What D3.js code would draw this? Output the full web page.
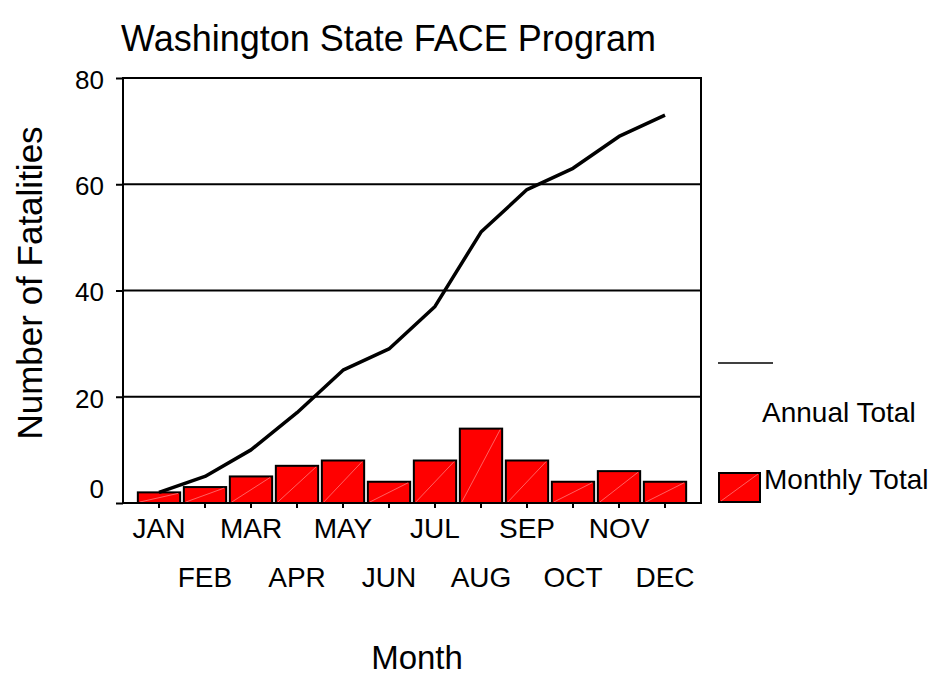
<!DOCTYPE html>
<html>
<head>
<meta charset="utf-8">
<script src="https://cdn.jsdelivr.net/npm/d3@7"></script>
<style>
  body { margin: 0; background: #fff; }
  svg text { font-family: "Liberation Sans", Arial, sans-serif; fill: #000; }
</style>
</head>
<body>
<div id="chart"></div>
<script>
const months = ['JAN', 'FEB', 'MAR', 'APR', 'MAY', 'JUN', 'JUL', 'AUG', 'SEP', 'OCT', 'NOV', 'DEC'];
const monthlyTotal = [2, 3, 5, 7, 8, 4, 8, 14, 8, 4, 6, 4];
const annualTotal = [2, 5, 10, 17, 25, 29, 37, 51, 59, 63, 69, 73];
const yTicks = [0, 20, 40, 60, 80];

const width = 935, height = 675;
const plot = { left: 123, right: 701, top: 78, bottom: 503 };

const svg = d3.select('#chart')
  .append('svg')
  .attr('width', width)
  .attr('height', height);

const x = d3.scaleBand()
  .domain(months)
  .range([plot.left, plot.right])
  .paddingInner(0.08)
  .paddingOuter(0.3226);

const y = d3.scaleLinear()
  .domain([0, 80])
  .range([plot.bottom, plot.top]);

// gridlines
svg.append('g')
  .selectAll('line')
  .data(yTicks.filter(d => d > 0 && d < 80))
  .join('line')
  .attr('x1', plot.left).attr('x2', plot.right)
  .attr('y1', d => y(d)).attr('y2', d => y(d))
  .attr('stroke', '#000')
  .attr('stroke-width', 2);

// bars
const bars = svg.append('g');
bars.selectAll('rect')
  .data(monthlyTotal)
  .join('rect')
  .attr('x', (d, i) => x(months[i]))
  .attr('y', d => y(d))
  .attr('width', x.bandwidth())
  .attr('height', d => y(0) - y(d))
  .attr('fill', '#ff0000')
  .attr('stroke', '#000')
  .attr('stroke-width', 2);

// faint diagonal inside each bar
bars.selectAll('line')
  .data(monthlyTotal)
  .join('line')
  .attr('x1', (d, i) => x(months[i]) + 2)
  .attr('y1', y(0) - 1)
  .attr('x2', (d, i) => x(months[i]) + x.bandwidth() - 2)
  .attr('y2', d => y(d) + 1)
  .attr('stroke', '#ff7a7a')
  .attr('stroke-width', 0.8);

// cumulative line
const line = d3.line()
  .x((d, i) => x(months[i]) + x.bandwidth() / 2)
  .y(d => y(d));

svg.append('path')
  .datum(annualTotal)
  .attr('fill', 'none')
  .attr('stroke', '#000')
  .attr('stroke-width', 3.5)
  .attr('stroke-linejoin', 'round')
  .attr('d', line);

// frame
svg.append('rect')
  .attr('x', plot.left).attr('y', plot.top)
  .attr('width', plot.right - plot.left)
  .attr('height', plot.bottom - plot.top)
  .attr('fill', 'none')
  .attr('stroke', '#000')
  .attr('stroke-width', 2);

// y axis
const yAxis = svg.append('g')
  .attr('transform', `translate(${plot.left},0)`)
  .call(d3.axisLeft(y).tickValues(yTicks).tickSize(7).tickPadding(12));
yAxis.select('.domain').remove();
yAxis.selectAll('line').attr('stroke', '#000').attr('stroke-width', 2);
yAxis.selectAll('text')
  .style('font-size', '26px')
  .attr('font-family', null)
  .attr('dy', d => d === 0 ? '-0.23em' : '0.4em');

// x axis
const xAxis = svg.append('g')
  .attr('transform', `translate(0,${plot.bottom})`)
  .call(d3.axisBottom(x).tickSize(5).tickPadding(0));
xAxis.select('.domain').remove();
xAxis.selectAll('line').attr('stroke', '#000').attr('stroke-width', 2);
xAxis.selectAll('text')
  .style('font-size', '28px')
  .attr('font-family', null)
  .attr('dy', null)
  .attr('y', (d, i) => i % 2 === 0 ? 35 : 84);

// titles
svg.append('text')
  .attr('x', 121).attr('y', 51)
  .style('font-size', '36px')
  .text('Washington State FACE Program');

svg.append('text')
  .attr('transform', 'translate(42,283) rotate(-90)')
  .attr('text-anchor', 'middle')
  .style('font-size', '35px')
  .text('Number of Fatalities');

svg.append('text')
  .attr('x', 417).attr('y', 669)
  .attr('text-anchor', 'middle')
  .style('font-size', '33px')
  .text('Month');

// legend
const legend = svg.append('g');
legend.append('line')
  .attr('x1', 718).attr('x2', 773)
  .attr('y1', 363).attr('y2', 363)
  .attr('stroke', '#000')
  .attr('stroke-width', 1.5);
legend.append('text')
  .attr('x', 762).attr('y', 422)
  .style('font-size', '28px')
  .text('Annual Total');
legend.append('rect')
  .attr('x', 719).attr('y', 473)
  .attr('width', 41).attr('height', 29)
  .attr('fill', '#ff0000')
  .attr('stroke', '#000')
  .attr('stroke-width', 2);
legend.append('line')
  .attr('x1', 721).attr('y1', 501)
  .attr('x2', 758).attr('y2', 474)
  .attr('stroke', '#ff7a7a')
  .attr('stroke-width', 0.8);
legend.append('text')
  .attr('x', 764).attr('y', 489)
  .style('font-size', '28px')
  .text('Monthly Total');
</script>
</body>
</html>
